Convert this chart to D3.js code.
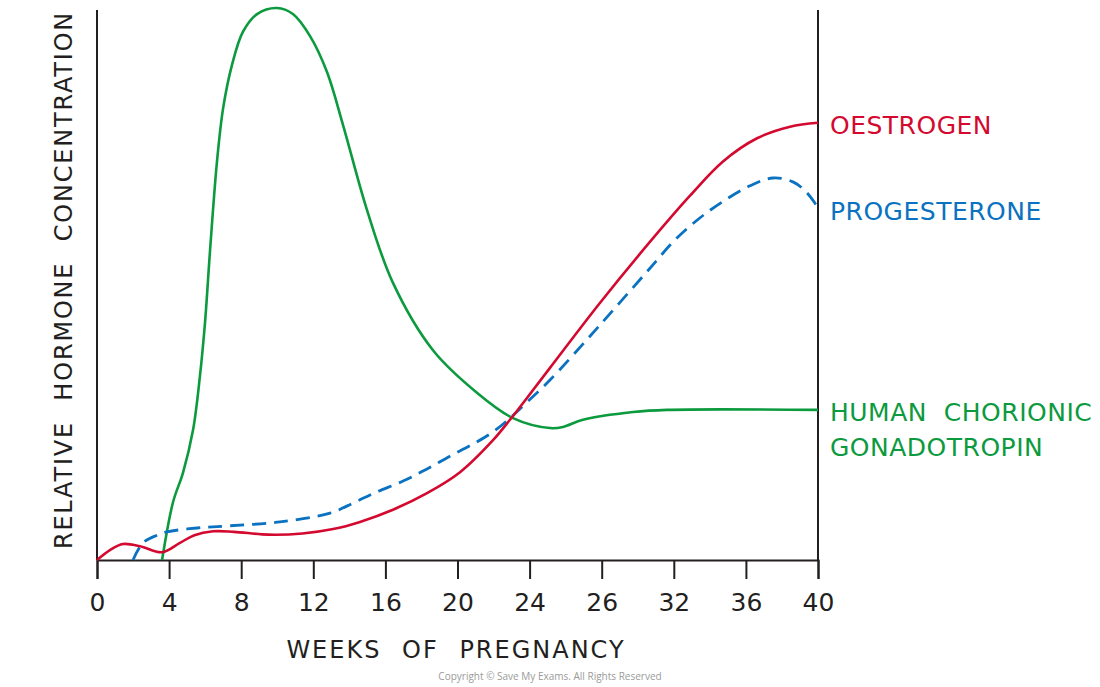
<!DOCTYPE html>
<html>
<head>
<meta charset="utf-8">
<script src="https://cdn.jsdelivr.net/npm/d3@7"></script>
<style>
  body { margin: 0; background: #fff; }
  text { font-family: "DejaVu Sans", "Noto Sans", sans-serif; }
</style>
</head>
<body>
<div id="chart"></div>
<script>
// tick positions (weeks) and the labels printed under them
const tickWeeks = [0, 4, 8, 12, 16, 20, 24, 28, 32, 36, 40];
const tickLabels = ["0", "4", "8", "12", "16", "20", "24", "26", "32", "36", "40"];

// [week, relative concentration 0-100]
const oestrogen = [
  [0, 0], [0.72, 1.8], [1.44, 2.9], [2.39, 2.5], [3.61, 1.4], [4.6, 3.1],
  [5.4, 4.5], [6.44, 5.2], [7.6, 5.1], [9.5, 4.6], [11.4, 4.8], [13.1, 5.6],
  [14.59, 6.9], [16.42, 9.1], [18.31, 12.1], [20.14, 15.9], [21.97, 21.7],
  [22.91, 25.4], [23.63, 28.4], [25.13, 34.8], [27.91, 46.6], [30.85, 58.3],
  [32.9, 66.0], [34.73, 72.2], [36.62, 76.4], [38.45, 78.5], [40, 79.2]
];
const progesterone = [
  [2.0, 0], [2.55, 3.1], [3.33, 4.5], [3.88, 5.1], [5.55, 5.8], [7.38, 6.2],
  [10.15, 6.9], [12.93, 8.5], [14.2, 10.3], [15.42, 12.2], [16.98, 14.3],
  [18.31, 16.5], [19.58, 18.8], [20.86, 21.0], [21.97, 23.2], [22.91, 25.7],
  [23.86, 28.6], [25.13, 32.6], [27.91, 42.6], [30.69, 52.9], [32.07, 58.0],
  [33.46, 62.0], [34.84, 65.2], [36.23, 67.8], [37.5, 69.2], [38.61, 68.5],
  [39.39, 66.5], [40, 63.8]
];
const hcg = [
  [3.61, 0], [4.22, 10.5], [4.77, 15.8], [5.33, 23.6], [5.71, 33.3], [5.99, 42.9],
  [6.27, 56.0], [6.66, 72.3], [7.0, 81.9], [7.49, 89.7], [8.1, 95.7], [8.88, 98.9],
  [9.99, 100], [10.87, 98.9], [11.82, 94.9], [12.76, 88.4], [13.65, 78.8],
  [14.98, 63.4], [16.42, 50.2], [18.64, 38.0], [21.08, 30.3], [23.08, 25.7],
  [25.13, 23.9], [25.85, 24.1], [26.96, 25.4], [29.74, 26.8], [31.62, 27.2], [40, 27.2]
];

const width = 1100, height = 687;
const red = "#d4092f", blue = "#0a72c1", green = "#0c9a3e";

const svg = d3.select("#chart").append("svg")
    .attr("width", width)
    .attr("height", height);

const x = d3.scaleLinear().domain([0, 40]).range([97, 818]);
const y = d3.scaleLinear().domain([0, 100]).range([560, 8]);

// left and right frame lines
svg.append("line")
    .attr("x1", x(0)).attr("x2", x(0))
    .attr("y1", 10).attr("y2", y(0))
    .attr("stroke", "#231f20").attr("stroke-width", 2);
svg.append("line")
    .attr("x1", x(40)).attr("x2", x(40))
    .attr("y1", 10).attr("y2", y(0))
    .attr("stroke", "#231f20").attr("stroke-width", 2);

// x axis
const xAxis = d3.axisBottom(x)
    .tickValues(tickWeeks)
    .tickSize(19)
    .tickPadding(14)
    .tickFormat((d, i) => tickLabels[i]);

const gx = svg.append("g")
    .attr("transform", `translate(0,${y(0)})`)
    .call(xAxis);
gx.select(".domain").attr("stroke", "#231f20").attr("stroke-width", 2);
gx.selectAll(".tick line").attr("stroke", "#231f20").attr("stroke-width", 2);
gx.selectAll(".tick text")
    .attr("fill", "#231f20")
    .style("font-size", "25px")
    .style("font-family", "DejaVu Sans, sans-serif");

// axis titles
svg.append("text")
    .attr("x", 456).attr("y", 658)
    .attr("text-anchor", "middle")
    .style("font-size", "24px")
    .style("letter-spacing", "2px")
    .style("word-spacing", "11px")
    .attr("fill", "#231f20")
    .text("WEEKS OF PREGNANCY");

svg.append("text")
    .attr("transform", "translate(72,280) rotate(-90)")
    .attr("text-anchor", "middle")
    .style("font-size", "24px")
    .style("letter-spacing", "1.8px")
    .style("word-spacing", "11px")
    .attr("fill", "#231f20")
    .text("RELATIVE HORMONE CONCENTRATION");

// curves
const line = d3.line()
    .x(d => x(d[0]))
    .y(d => y(d[1]))
    .curve(d3.curveCatmullRom.alpha(0.5));

svg.append("path")
    .datum(hcg)
    .attr("d", line)
    .attr("fill", "none")
    .attr("stroke", green)
    .attr("stroke-width", 2.6);

svg.append("path")
    .datum(progesterone)
    .attr("d", line)
    .attr("fill", "none")
    .attr("stroke", blue)
    .attr("stroke-width", 2.8)
    .attr("stroke-dasharray", "14,8");

svg.append("path")
    .datum(oestrogen)
    .attr("d", line)
    .attr("fill", "none")
    .attr("stroke", red)
    .attr("stroke-width", 2.6);

// series labels on the right
const labels = [
    { text: "OESTROGEN", y: 134, color: red },
    { text: "PROGESTERONE", y: 220, color: blue },
    { text: "HUMAN  CHORIONIC", y: 421, color: green },
    { text: "GONADOTROPIN", y: 456, color: green }
];
svg.selectAll(".series-label")
    .data(labels)
    .enter().append("text")
    .attr("class", "series-label")
    .attr("x", 830)
    .attr("y", d => d.y)
    .attr("fill", d => d.color)
    .style("font-size", "25px")
    .style("letter-spacing", "0.5px")
    .style("white-space", "pre")
    .attr("xml:space", "preserve")
    .text(d => d.text);

svg.append("text")
    .attr("x", 550).attr("y", 680)
    .attr("text-anchor", "middle")
    .attr("fill", "#9a9a9a")
    .style("font-family", "Open Sans, sans-serif")
    .style("font-size", "10px")
    .text("Copyright © Save My Exams. All Rights Reserved");
</script>
</body>
</html>
